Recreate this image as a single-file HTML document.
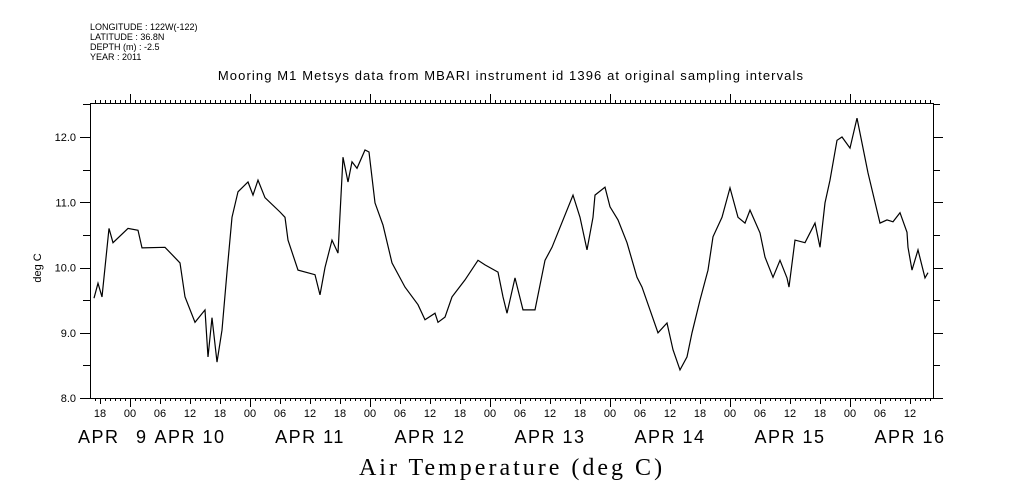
<!DOCTYPE html>
<html><head><meta charset="utf-8"><style>
html,body{margin:0;padding:0;background:#fff;}
svg{display:block;font-family:"Liberation Sans",sans-serif;}
</style></head><body>
<svg id="chart" width="1009" height="504" viewBox="0 0 1009 504">
<g font-size="9" fill="#000">
<text x="90" y="30">LONGITUDE : 122W(-122)</text>
<text x="90" y="40">LATITUDE : 36.8N</text>
<text x="90" y="50">DEPTH (m) : -2.5</text>
<text x="90" y="60">YEAR : 2011</text>
</g>
<text x="511" y="80" text-anchor="middle" font-size="13" letter-spacing="1.1">Mooring M1 Metsys data from MBARI instrument id 1396 at original sampling intervals</text>
<text x="512" y="475" text-anchor="middle" font-size="24" letter-spacing="3" font-family="Liberation Serif, serif">Air Temperature (deg C)</text>
<text transform="translate(41,268) rotate(-90)" text-anchor="middle" font-size="11">deg C</text>
<rect x="90.5" y="103.5" width="843" height="295" fill="none" stroke="#000" stroke-width="1"/>
<g id="axes" shape-rendering="crispEdges"></g>
<path id="series" fill="none" stroke="#000" stroke-width="1.2"/>
</svg>
<script>
// hours relative to APR 10 00:00
const hours=[-7.2,-6.4,-5.6,-4.2,-3.4,-0.4,1.6,2.4,7,10,11,13,15,15.6,16.4,17.4,18.4,19.4,20.4,21.6,23.6,24.6,25.6,27,30,31,31.6,33.6,37,38,39,40.4,41.6,42.6,43.6,44.4,45.4,47,47.8,49,50.6,52.4,55,57.6,59,61,61.6,63,64.4,67,69.6,71,73.6,74.6,75.4,77,78.6,81,83,84.4,88.6,90,91.4,92.6,93,95,96,97.6,99.4,101.4,102.4,104,105.6,107.4,108.6,110,111.4,112.4,114,115.6,116.6,118.4,120,121.6,123,124,126,127,128.6,130,131.4,131.8,133,135,137,138,139,140,141.4,142.4,144,145.4,147.6,150,151.4,152.6,154,155.4,155.6,156.4,157.6,159,159.6];
const temps=[9.53,9.76,9.55,10.6,10.38,10.6,10.57,10.3,10.31,10.07,9.55,9.16,9.35,8.63,9.23,8.55,9.04,9.93,10.77,11.16,11.31,11.11,11.34,11.07,10.85,10.77,10.42,9.96,9.89,9.58,10.0,10.42,10.22,11.69,11.31,11.62,11.52,11.8,11.77,10.99,10.65,10.07,9.7,9.43,9.2,9.3,9.16,9.24,9.55,9.81,10.11,10.04,9.93,9.55,9.3,9.84,9.35,9.35,10.11,10.31,11.11,10.77,10.27,10.77,11.11,11.23,10.93,10.73,10.38,9.85,9.7,9.35,9.0,9.15,8.74,8.43,8.63,9.0,9.5,9.96,10.47,10.77,11.22,10.77,10.68,10.88,10.53,10.16,9.85,10.11,9.84,9.7,10.42,10.38,10.68,10.31,10.99,11.34,11.95,12.0,11.83,12.29,11.45,10.68,10.73,10.7,10.84,10.54,10.31,9.96,10.27,9.84,9.92,10.11,10.11];
const yTicks=[8.0,9.0,10.0,11.0,12.0];
const hourLabels=["18","00","06","12","18","00","06","12","18","00","06","12","18","00","06","12","18","00","06","12","18","00","06","12","18","00","06","12"];
const dayLabels=["APR  9","APR 10","APR 11","APR 12","APR 13","APR 14","APR 15","APR 16"];
const X0=90,X1=933,Y0=398,Y1=103;
const HMIN=-8,HMAX=160.6;
function xs(h){return X0+(h-HMIN)*(X1-X0)/(HMAX-HMIN);}
function ys(v){return Y0-(v-8)*65.25;}
const NS="http://www.w3.org/2000/svg";
const ax=document.getElementById('axes');
function line(x1,y1,x2,y2,name){const l=document.createElementNS(NS,'line');l.setAttribute('x1',x1);l.setAttribute('y1',y1);l.setAttribute('x2',x2);l.setAttribute('y2',y2);l.setAttribute('stroke','#000');l.setAttribute('stroke-width','1');


ax.appendChild(l);}
function text(x,y,s,size,name,anchor,ls){const t=document.createElementNS(NS,'text');t.setAttribute('x',x);t.setAttribute('y',y);t.setAttribute('font-size',size);t.setAttribute('text-anchor',anchor||'middle');if(ls)t.setAttribute('letter-spacing',ls);t.textContent=s;


ax.appendChild(t);}
for(let v=8;v<=12.51;v+=0.5){const y=Math.round(ys(v))+0.5;const big=Math.abs(v-Math.round(v))<0.01;
line(X0-(big?10:7),y,X0,y,'y-tick-left');line(X1,y,X1+(big?10:7),y,'y-tick-right');}
yTicks.forEach(v=>text(76,ys(v)+4,v.toFixed(1),11,'y-tick-label','end'));
for(let h=-7;h<HMAX;h+=1){const x=Math.round(xs(h))+0.5;line(x,Y1,x,Y1-3,'x-minor-tick-top');line(x,Y0,x,Y0+3,'x-minor-tick-bottom');}
for(let k=0;k*24<HMAX;k++){const x=Math.round(xs(k*24))+0.5;line(x,Y1,x,Y1-9,'x-day-tick-top');line(x,Y0,x,Y0+9,'x-day-tick-bottom');}
for(let k=0;k<hourLabels.length;k++){const h=-6+k*6;const x=xs(h);line(Math.round(x)+0.5,Y0,Math.round(x)+0.5,Y0+6,'x-hour-tick');text(x,417,hourLabels[k],11,'x-hour-label');}
text(78,443,"APR",18,'day-label-apr9-month','start',1.5);text(141,443,"9",18,'day-label-apr9-day');
for(let i=1;i<dayLabels.length;i++){const x=xs((i-1)*24+12);text(x,443,dayLabels[i],18,'day-label','middle',1.5);}
let d='';hours.forEach((h,i)=>{d+=(i?'L':'M')+xs(h).toFixed(1)+' '+ys(temps[i]).toFixed(1);});
document.getElementById('series').setAttribute('d',d);
</script>
</body></html>
